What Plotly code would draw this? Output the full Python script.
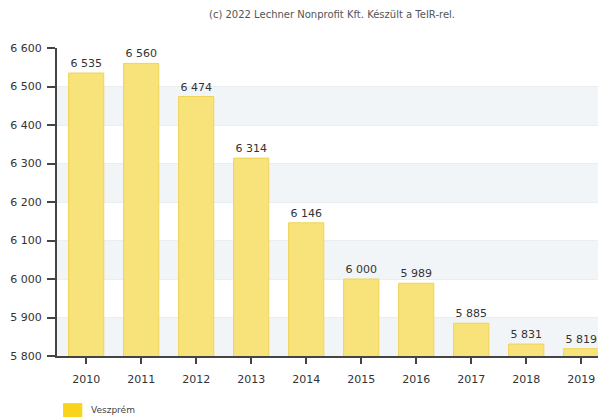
import plotly.graph_objects as go

years = ["2010", "2011", "2012", "2013", "2014", "2015", "2016", "2017", "2018", "2019"]
values = [6535, 6560, 6474, 6314, 6146, 6000, 5989, 5885, 5831, 5819]
series_name = "Veszprém"
y_ticks = [5800, 5900, 6000, 6100, 6200, 6300, 6400, 6500, 6600]
title_text = "(c) 2022 Lechner Nonprofit Kft. Készült a TeIR-rel."

font = "DejaVu Sans, Verdana, sans-serif"

fig = go.Figure()
fig.add_trace(go.Bar(
    x=years, y=values, name=series_name,
    marker=dict(color="#f8e27a", line=dict(color="#efd458", width=1)),
    width=0.64,
    text=values, texttemplate="%{y:,d}", textposition="outside",
    textfont=dict(family=font, size=11, color="#333333"),
    cliponaxis=False,
    showlegend=False,
))

shapes = []
for i in range(len(y_ticks) - 1):
    if i % 2 == 0:
        shapes.append(dict(type="rect", xref="paper", yref="y", x0=0, x1=1,
                           y0=y_ticks[i], y1=y_ticks[i + 1],
                           fillcolor="#f2f5f8", line=dict(width=0), layer="below"))
# legend swatch
shapes.append(dict(type="rect", xref="paper", yref="paper", x0=0.011, x1=0.046,
                   y0=-0.153, y1=-0.2, fillcolor="#f8d41c", line=dict(width=0)))

fig.update_layout(
    width=606, height=417,
    margin=dict(l=49, r=8, t=40, b=69, autoexpand=False),
    paper_bgcolor="white", plot_bgcolor="white",
    separators=", ",
    font=dict(family=font, size=11, color="#333333"),
    bargap=0.36,
    shapes=shapes,
    annotations=[
        dict(text=title_text, xref="paper", yref="paper", x=0.501, y=1.0,
             yshift=34, showarrow=False, xanchor="center", yanchor="middle",
             font=dict(family=font, size=10, color="#555555")),
        dict(text=series_name, xref="paper", yref="paper", x=0.058, y=-0.176,
             showarrow=False, xanchor="left", yanchor="middle",
             font=dict(family=font, size=9, color="#444444")),
    ],
)
fig.update_xaxes(
    range=[-0.53, 9.45], showline=True, linecolor="#444444", linewidth=2,
    ticks="outside", ticklen=6, tickcolor="#444444", tickwidth=1.5,
    ticklabelstandoff=6, automargin=False,
    showgrid=False, tickfont=dict(family=font, size=11, color="#333333"),
)
fig.update_yaxes(
    range=[5800, 6600], tickvals=y_ticks, tickformat=",d",
    showline=True, linecolor="#444444", linewidth=2,
    ticks="outside", ticklen=8, tickcolor="#444444", tickwidth=1.5,
    ticklabelstandoff=3, automargin=False,
    showgrid=True, gridcolor="#ebeef1", gridwidth=1, zeroline=False,
    tickfont=dict(family=font, size=11, color="#333333"),
)

fig.write_html("out.html")
